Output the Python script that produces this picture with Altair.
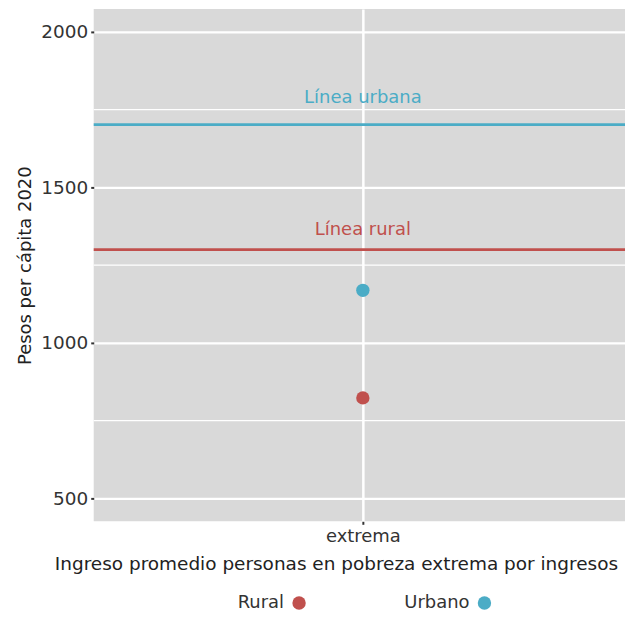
import altair as alt
import pandas as pd

# ---- data ----
categoria = ["extrema", "extrema"]
series = ["Rural", "Urbano"]
ingreso = [823, 1169]
linea_series = ["Rural", "Urbano"]
linea_valores = [1300, 1702]
linea_textos = ["Línea rural", "Línea urbana"]
texto_y = [1364, 1786]
minor_grid = [750, 1250, 1750]
y_ticks = [500, 1000, 1500, 2000]
y_domain = [426, 2074]
colores = ["#c0504d", "#4bacc6"]

pts = pd.DataFrame({"Categoria": categoria, "Serie": series, "Ingreso": ingreso})
lineas = pd.DataFrame({"Serie": linea_series, "Valor": linea_valores,
                       "Texto": linea_textos, "TextoY": texto_y,
                       "Categoria": categoria})
minor = pd.DataFrame({"v": minor_grid})

FONT = "DejaVu Sans"
FS = 18
FT = 18.5
y_scale = alt.Scale(domain=y_domain, nice=False, zero=False)
x_scale = alt.Scale(type="point", padding=0.5)


def cscale():
    return alt.Scale(domain=series, range=colores)


y_axis = alt.Axis(values=y_ticks, format="d", title="Pesos per cápita 2020",
                  grid=True, gridColor="white", gridWidth=2.2, domain=False,
                  tickColor="#333333", tickSize=3, tickWidth=2,
                  labelFontSize=FT, titleFontSize=FS, labelPadding=3,
                  titlePadding=6, labelColor="#333333", titleColor="#222222",
                  titleFontWeight="normal")
x_axis = alt.Axis(title="Ingreso promedio personas en pobreza extrema por ingresos",
                  labelAngle=0, grid=True, gridColor="white", gridWidth=2.5,
                  domain=False, tickColor="#333333", tickSize=3, tickWidth=2,
                  labelFontSize=FS, titleFontSize=FT, labelPadding=3,
                  titlePadding=9, labelColor="#333333", titleColor="#222222",
                  titleFontWeight="normal", titleX=243, titleAlign="center")

minor_layer = alt.Chart(minor).mark_rule(color="white", strokeWidth=1.3).encode(
    y=alt.Y("v:Q", scale=y_scale, axis=y_axis)
)

rule_layer = alt.Chart(lineas).mark_rule(strokeWidth=2.6).encode(
    y=alt.Y("Valor:Q", scale=y_scale),
    color=alt.Color("Serie:N", scale=cscale(), legend=None),
)

text_layer = alt.Chart(lineas).mark_text(fontSize=FS, baseline="middle",
                                          font=FONT).encode(
    x=alt.X("Categoria:N", scale=x_scale, axis=x_axis),
    y=alt.Y("TextoY:Q", scale=y_scale),
    text="Texto:N",
    color=alt.Color("Serie:N", scale=cscale(), legend=None),
)

point_layer = alt.Chart(pts).mark_circle(size=180, opacity=1).encode(
    x=alt.X("Categoria:N", scale=x_scale, axis=x_axis),
    y=alt.Y("Ingreso:Q", scale=y_scale),
    color=alt.Color("Serie:N", scale=cscale(),
                    legend=alt.Legend(title=None, orient="none",
                                      legendX=197, legendY=587,
                                      direction="horizontal",
                                      labelAlign="right",
                                      labelOffset={"expr": "-24"},
                                      columnPadding=98, symbolSize=180,
                                      labelFontSize=FS, labelColor="#333333",
                                      symbolType="circle")),
)

chart = alt.layer(minor_layer, rule_layer, text_layer, point_layer).resolve_scale(
    color="independent"
).resolve_legend(color="independent").properties(
    width=540, height=514,
    padding={"left": 8, "top": 0, "right": -9, "bottom": 0},
).configure(font=FONT).configure_view(fill="#d9d9d9", strokeWidth=0)

chart.save("out.html", embed_options={"renderer": "svg", "actions": False})
